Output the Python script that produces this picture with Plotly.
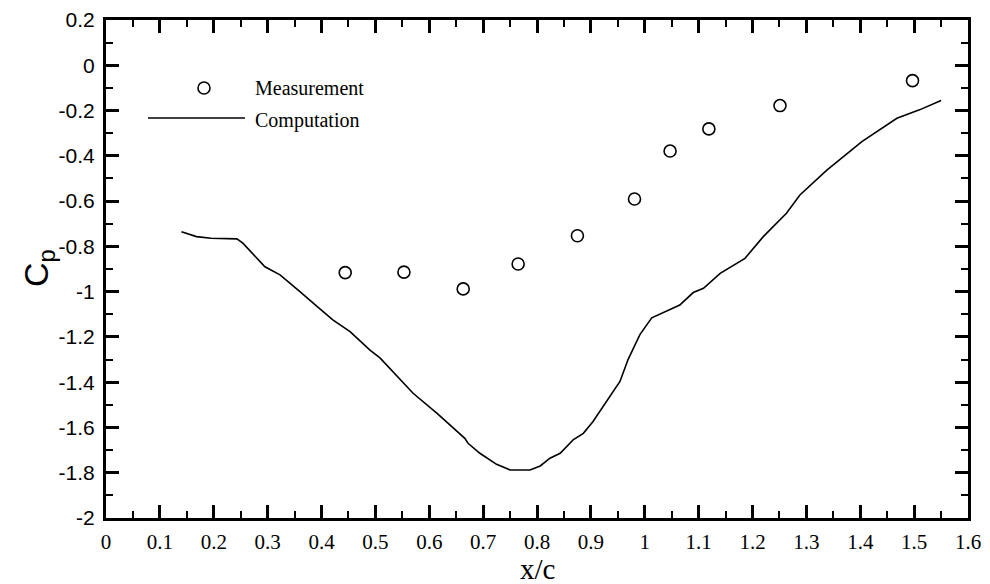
import plotly.graph_objects as go

# Measurement data (open circles)
meas_x = [0.444, 0.553, 0.663, 0.765, 0.875, 0.981, 1.047, 1.119, 1.251, 1.497]
meas_y = [-0.916, -0.914, -0.988, -0.878, -0.753, -0.591, -0.379, -0.281, -0.178, -0.068]

# Computation data (solid line)
comp_x = [0.140, 0.168, 0.195, 0.243, 0.254, 0.275, 0.295, 0.323, 0.342, 0.360, 0.390,
          0.421, 0.453, 0.490, 0.509, 0.540, 0.570, 0.614, 0.666, 0.672, 0.694, 0.725,
          0.750, 0.787, 0.806, 0.824, 0.843, 0.867, 0.886, 0.904, 0.923, 0.942, 0.954,
          0.969, 0.991, 1.013, 1.040, 1.065, 1.090, 1.109, 1.140, 1.186, 1.220, 1.263,
          1.288, 1.338, 1.403, 1.468, 1.510, 1.550]
comp_y = [-0.735, -0.757, -0.764, -0.767, -0.786, -0.840, -0.890, -0.926, -0.963, -1.000, -1.062,
          -1.125, -1.177, -1.258, -1.294, -1.375, -1.449, -1.537, -1.648, -1.670, -1.714, -1.763,
          -1.788, -1.788, -1.770, -1.736, -1.714, -1.655, -1.626, -1.574, -1.508, -1.442, -1.397,
          -1.300, -1.190, -1.116, -1.085, -1.059, -1.004, -0.985, -0.919, -0.853, -0.757, -0.654,
          -0.573, -0.463, -0.337, -0.234, -0.197, -0.156]

x_tickvals = [0, 0.1, 0.2, 0.3, 0.4, 0.5, 0.6, 0.7, 0.8, 0.9, 1.0, 1.1, 1.2, 1.3, 1.4, 1.5, 1.6]
x_ticktext = ["0", "0.1", "0.2", "0.3", "0.4", "0.5", "0.6", "0.7", "0.8", "0.9", "1",
              "1.1", "1.2", "1.3", "1.4", "1.5", "1.6"]
y_tickvals = [0.2, 0, -0.2, -0.4, -0.6, -0.8, -1.0, -1.2, -1.4, -1.6, -1.8, -2.0]
y_ticktext = ["0.2", "0", "-0.2", "-0.4", "-0.6", "-0.8", "-1", "-1.2", "-1.4", "-1.6", "-1.8", "-2"]

legend_labels = ["Measurement", "Computation"]

serif = "Liberation Serif, Times New Roman, serif"
sans = "Liberation Sans, Arial, sans-serif"

fig = go.Figure()
fig.add_trace(go.Scatter(
    x=comp_x, y=comp_y, mode="lines",
    line=dict(color="black", width=1.6), showlegend=False, name=legend_labels[1]))
fig.add_trace(go.Scatter(
    x=meas_x, y=meas_y, mode="markers",
    marker=dict(symbol="circle-open", size=12, color="black", line=dict(width=1.6)),
    showlegend=False, name=legend_labels[0]))

# page has an 8px body margin, so the figure is offset by 8px
OFF = 8
W, H = 990 - OFF, 584 - OFF
# target plot area in page pixels: left 106, right 968, top 20, bottom 518
ml, mr, mt, mb = 106 - OFF, 990 - 968, 20 - OFF, 584 - 518
pw, ph = W - ml - mr, H - mt - mb

def px_x(p):
    return (p - OFF - ml) / pw

def px_y(p):
    return 1 - (p - OFF - mt) / ph

# Manual legend (paper coordinates)
fig.add_shape(type="circle", xref="paper", yref="paper",
              x0=px_x(198), x1=px_x(210), y0=px_y(94), y1=px_y(82),
              line=dict(color="black", width=1.6))
fig.add_shape(type="line", xref="paper", yref="paper",
              x0=px_x(148), x1=px_x(245), y0=px_y(118), y1=px_y(118),
              line=dict(color="black", width=1.6))
fig.add_annotation(xref="paper", yref="paper", x=px_x(253), y=px_y(88),
                   text=legend_labels[0], showarrow=False, xanchor="left", yanchor="middle",
                   font=dict(family=serif, size=20, color="black"))
fig.add_annotation(xref="paper", yref="paper", x=px_x(253), y=px_y(120),
                   text=legend_labels[1], showarrow=False, xanchor="left", yanchor="middle",
                   font=dict(family=serif, size=20, color="black"))

# Axis titles
fig.add_annotation(xref="paper", yref="paper", x=px_x(537), y=px_y(569),
                   text="x/c", showarrow=False, xanchor="center", yanchor="middle",
                   font=dict(family=serif, size=29, color="black"))
fig.add_annotation(xref="paper", yref="paper", x=px_x(38), y=px_y(268),
                   text="C<sub>p</sub>", showarrow=False, xanchor="center", yanchor="middle",
                   textangle=-90,
                   font=dict(family=sans, size=34, color="black"))

fig.update_xaxes(
    range=[0, 1.6], tickvals=x_tickvals, ticktext=x_ticktext,
    ticks="inside", ticklen=13, tickwidth=2.5, tickcolor="black",
    showline=True, linewidth=3, linecolor="black", mirror="ticks",
    showgrid=False, zeroline=False,
    minor=dict(dtick=0.05, tick0=0, ticks="inside", ticklen=7, tickwidth=1.5,
               tickcolor="black", showgrid=False),
    tickfont=dict(family=serif, size=21, color="black"),
    ticklabelstandoff=3,
)
fig.update_yaxes(
    range=[-2, 0.2], tickvals=y_tickvals, ticktext=y_ticktext,
    ticks="inside", ticklen=13, tickwidth=2.5, tickcolor="black",
    showline=True, linewidth=3, linecolor="black", mirror="ticks",
    showgrid=False, zeroline=False,
    minor=dict(dtick=0.1, tick0=0, ticks="inside", ticklen=7, tickwidth=1.5,
               tickcolor="black", showgrid=False),
    tickfont=dict(family=sans, size=21, color="black"),
    ticklabelstandoff=4,
)

fig.update_layout(
    width=W, height=H,
    margin=dict(l=ml, r=mr, t=mt, b=mb, autoexpand=False),
    paper_bgcolor="white", plot_bgcolor="white",
    showlegend=False,
)

fig.write_html("out.html")
